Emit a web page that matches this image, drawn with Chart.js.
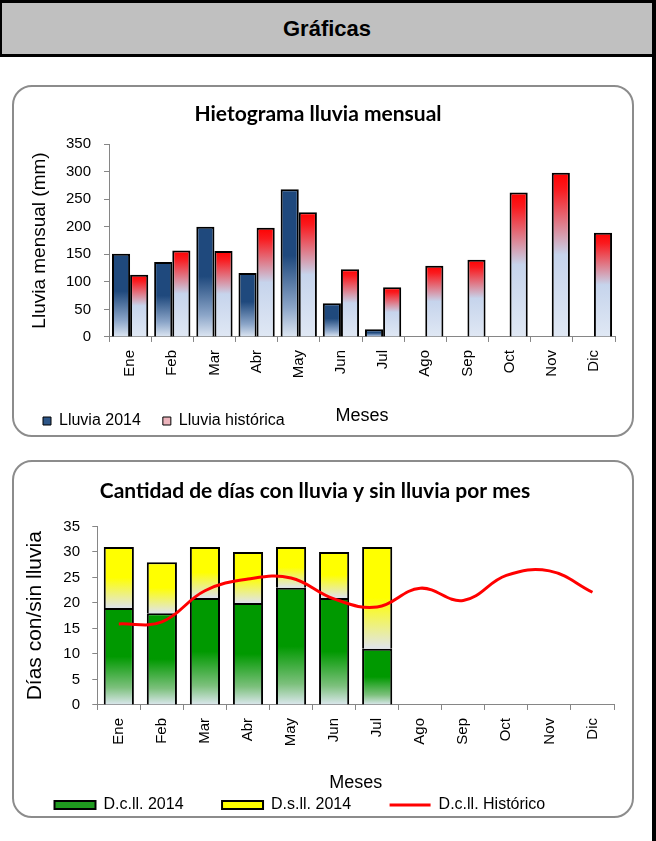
<!DOCTYPE html>
<html>
<head>
<meta charset="utf-8">
<script src="https://cdn.jsdelivr.net/npm/chart.js@4.4.0/dist/chart.umd.min.js"></script>
<style>
html, body { margin: 0; padding: 0; background: #fff; }
#page { position: relative; width: 656px; height: 841px; overflow: hidden; }
#header { position: absolute; left: 0; top: 0; width: 650px; height: 51px; background: #c0c0c0;
  border-top: 3px solid #000; border-bottom: 3px solid #000; border-left: 2px solid #000;
  font: bold 22px "Liberation Sans", Arial, sans-serif; text-align: center; line-height: 51px; color: #000; }
#rightbar { position: absolute; left: 652px; top: 0; width: 4px; height: 841px; background: #000; }
.card { position: absolute; left: 12px; width: 618px; border: 2px solid #8c8c8c; border-radius: 20px; }
#card1 { top: 85px; height: 348px; }
#card2 { top: 460px; height: 354px; }
canvas { position: absolute; left: 8px; }
#c1 { top: 86px; }
#c2 { top: 461px; }
</style>
</head>
<body>
<div id="page">
  <div id="header">Gráficas</div>
  <div id="rightbar"></div>
  <div class="card" id="card1"></div>
  <div class="card" id="card2"></div>
  <canvas id="c1" width="628" height="353"></canvas>
  <canvas id="c2" width="628" height="362"></canvas>
</div>
<script>
// datos
const meses = ['Ene', 'Feb', 'Mar', 'Abr', 'May', 'Jun', 'Jul', 'Ago', 'Sep', 'Oct', 'Nov', 'Dic'];
const lluvia2014 = [151, 136, 200, 116, 268, 61, 14, null, null, null, null, null];
const lluviaHistorica = [113, 157, 156, 198, 226, 123, 90, 129, 140, 262, 298, 189];

const diasConLluvia2014 = [19, 18, 21, 20, 23, 21, 11];
const diasSinLluvia2014 = [12, 10, 10, 10, 8, 9, 20];
const diasConLluviaHist = [15.9, 16.3, 22.4, 24.7, 24.9, 20.8, 19.2, 22.9, 20.5, 25.4, 26.3, 22.1];

const FONT = 'Liberation Sans, Arial, sans-serif';

// gradiente por barra, de arriba (0) a abajo (1)
function barGradient(stops, baseArr) {
    return function(c) {
        const chart = c.chart;
        const y = chart.scales && chart.scales.y;
        if (!y || c.type !== 'data' || c.raw == null) return stops[0][1];
        const base = baseArr ? (baseArr[c.dataIndex] || 0) : 0;
        const top = y.getPixelForValue(base + c.raw);
        const bottom = y.getPixelForValue(base);
        if (!isFinite(top) || !isFinite(bottom) || top === bottom) return stops[0][1];
        const g = chart.ctx.createLinearGradient(0, top, 0, bottom);
        stops.forEach(s => g.addColorStop(s[0], s[1]));
        return g;
    };
}

const azulStops = [[0, '#1f497d'], [0.45, '#1f497d'], [0.8, '#8ba5c8'], [1, '#dde6f2']];
const rojoStops = [[0, '#ff0000'], [0.1, '#fa1a1e'], [0.5, '#c6d4ec'], [1, '#e0e8f4']];
const verdeStops = [[0, '#009900'], [0.5, '#009900'], [0.82, '#7cc07c'], [1, '#dde8ef']];
const amarilloStops = [[0, '#ffff00'], [0.5, '#ffff00'], [1, '#dfe4ec']];

function axisX(padTop, padBottom) {
    return {
        offset: true,
        grid: { display: true, drawOnChartArea: false, offset: true, tickLength: 5, color: '#868686' },
        border: { display: true, color: '#868686', width: 1 },
        ticks: { color: '#000', font: { family: FONT, size: 15 }, maxRotation: 90, minRotation: 90, padding: 8, autoSkip: false },
        title: { display: true, text: 'Meses', color: '#000', font: { family: FONT, size: 18 }, padding: { top: padTop, bottom: padBottom } }
    };
}

function drawChart1() {
    const legendFill = ['#2d5587', '#ecb4bc'];
    return new Chart(document.getElementById('c1'), {
        type: 'bar',
        data: {
            labels: meses,
            datasets: [
                {
                    label: 'Lluvia 2014',
                    data: lluvia2014,
                    backgroundColor: barGradient(azulStops),
                    borderColor: '#000',
                    borderWidth: 2,
                    categoryPercentage: 0.86,
                    barPercentage: 1
                },
                {
                    label: 'Lluvia histórica',
                    data: lluviaHistorica,
                    backgroundColor: barGradient(rojoStops),
                    borderColor: '#000',
                    borderWidth: 2,
                    categoryPercentage: 0.86,
                    barPercentage: 1
                }
            ]
        },
        options: {
            responsive: false,
            animation: false,
            devicePixelRatio: 1,
            layout: { padding: { left: 13, right: 21, top: 0, bottom: 0 } },
            plugins: {
                tooltip: { enabled: false },
                title: {
                    display: true, text: 'Hietograma lluvia mensual', color: '#000',
                    font: { family: 'Lato', weight: 'bold', size: 21 },
                    padding: { top: 15.4, bottom: 17.4 }
                },
                legend: {
                    position: 'bottom', align: 'start',
                    labels: {
                        color: '#000', font: { family: FONT, size: 16 },
                        boxWidth: 8, boxHeight: 8, padding: 22,
                        generateLabels(chart) {
                            const items = Chart.defaults.plugins.legend.labels.generateLabels(chart);
                            items.forEach(it => { it.fillStyle = legendFill[it.datasetIndex]; it.lineWidth = 1; });
                            return items;
                        }
                    }
                }
            },
            scales: {
                x: axisX(18.9, -35.8),
                y: {
                    min: 0, max: 350,
                    ticks: { stepSize: 50, color: '#000', font: { family: FONT, size: 15 }, padding: 13 },
                    grid: { display: true, drawOnChartArea: false, tickLength: 5, color: '#868686' },
                    border: { display: true, color: '#868686', width: 1 },
                    title: { display: true, text: 'Lluvia mensual (mm)', color: '#000', font: { family: FONT, size: 19 }, padding: { top: 7.6, bottom: 1.6 } }
                }
            }
        }
    });
}

function drawChart2() {
    const legendFill = ['#1f9a1f', '#ffff00', '#ff0000'];
    return new Chart(document.getElementById('c2'), {
        type: 'bar',
        data: {
            labels: meses,
            datasets: [
                {
                    label: 'D.c.ll. 2014',
                    data: diasConLluvia2014,
                    backgroundColor: barGradient(verdeStops),
                    borderColor: '#000',
                    borderWidth: 2,
                    categoryPercentage: 0.7,
                    barPercentage: 1,
                    order: 1
                },
                {
                    label: 'D.s.ll. 2014',
                    data: diasSinLluvia2014,
                    backgroundColor: barGradient(amarilloStops, diasConLluvia2014),
                    borderColor: '#000',
                    borderWidth: 2,
                    categoryPercentage: 0.7,
                    barPercentage: 1,
                    order: 1
                },
                {
                    type: 'line',
                    label: 'D.c.ll. Histórico',
                    data: diasConLluviaHist,
                    borderColor: '#ff0000',
                    backgroundColor: '#ff0000',
                    borderWidth: 3,
                    pointRadius: 0,
                    tension: 0.4,
                    fill: false,
                    order: 0
                }
            ]
        },
        options: {
            responsive: false,
            animation: false,
            devicePixelRatio: 1,
            layout: { padding: { left: 8, right: 22, top: 0, bottom: 0 } },
            plugins: {
                tooltip: { enabled: false },
                title: {
                    display: true, text: 'Cantidad de días con lluvia y sin lluvia por mes', color: '#000',
                    font: { family: 'Lato', weight: 'bold', size: 21 },
                    padding: { top: 17.4, bottom: 22.9 }
                },
                legend: {
                    position: 'bottom', align: 'start',
                    labels: {
                        color: '#000', font: { family: FONT, size: 16 },
                        usePointStyle: true, pointStyleWidth: 41, boxHeight: 8, padding: 38.5,
                        sort: (a, b) => a.datasetIndex - b.datasetIndex,
                        generateLabels(chart) {
                            const items = Chart.defaults.plugins.legend.labels.generateLabels(chart);
                            items.forEach(it => {
                                it.fillStyle = legendFill[it.datasetIndex];
                                if (it.datasetIndex === 2) {
                                    it.pointStyle = 'line'; it.strokeStyle = '#ff0000'; it.lineWidth = 3;
                                } else {
                                    it.pointStyle = 'rect'; it.strokeStyle = '#000'; it.lineWidth = 2;
                                }
                            });
                            return items;
                        }
                    }
                }
            },
            scales: {
                x: Object.assign(axisX(17.9, -35.3), { stacked: true }),
                y: {
                    stacked: true,
                    min: 0, max: 35,
                    ticks: { stepSize: 5, color: '#000', font: { family: FONT, size: 15 }, padding: 12.3 },
                    grid: { display: true, drawOnChartArea: false, tickLength: 5, color: '#868686' },
                    border: { display: true, color: '#868686', width: 1 },
                    title: { display: true, text: 'Días con/sin lluvia', color: '#000', font: { family: FONT, size: 21 }, padding: { top: 6.4, bottom: 3.4 } }
                }
            }
        }
    });
}

drawChart1();
drawChart2();
</script>
</body>
</html>
